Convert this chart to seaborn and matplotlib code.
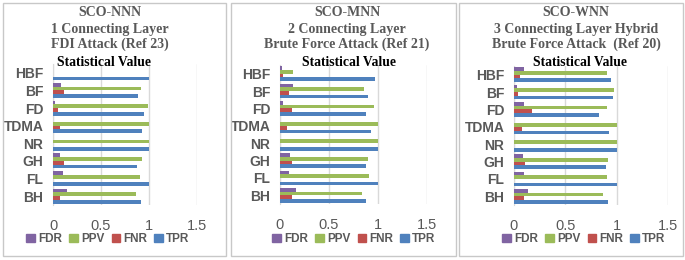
import matplotlib
matplotlib.use('Agg')
from matplotlib import pyplot as plt
from matplotlib.patches import Rectangle
import pandas as pd
import seaborn as sns

# 三个子图的数据
categories = ['HBF', 'BF', 'FD', 'TDMA', 'NR', 'GH', 'FL', 'BH']
series = ['FDR', 'PPV', 'FNR', 'TPR']

nnn_fdr = [0.0, 0.084, 0.02, 0.005, 0.0, 0.07, 0.10, 0.147]
nnn_ppv = [0.0, 0.916, 0.985, 1.0, 1.0, 0.93, 0.91, 0.86]
nnn_fnr = [0.0, 0.11, 0.05, 0.075, 0.0, 0.11, 0.0, 0.077]
nnn_tpr = [1.0, 0.89, 0.95, 0.93, 1.0, 0.88, 1.0, 0.92]

mnn_fdr = [0.02, 0.137, 0.03, 0.0, 0.0, 0.10, 0.092, 0.164]
mnn_ppv = [0.137, 0.86, 0.962, 1.0, 1.0, 0.894, 0.908, 0.833]
mnn_fnr = [0.027, 0.095, 0.123, 0.072, 0.0, 0.123, 0.0, 0.12]
mnn_tpr = [0.97, 0.90, 0.874, 0.928, 1.0, 0.874, 1.0, 0.877]

wnn_fdr = [0.094, 0.026, 0.10, 0.0, 0.0, 0.085, 0.098, 0.137]
wnn_ppv = [0.909, 0.977, 0.902, 1.0, 1.0, 0.92, 0.909, 0.866]
wnn_fnr = [0.055, 0.036, 0.176, 0.078, 0.0, 0.11, 0.0, 0.098]
wnn_tpr = [0.948, 0.967, 0.83, 0.928, 1.0, 0.896, 1.0, 0.912]

titles = [['SCO-NNN', '1 Connecting Layer', 'FDI Attack (Ref 23)'],
          ['SCO-MNN', '2 Connecting Layer', 'Brute Force Attack (Ref 21)'],
          ['SCO-WNN', '3 Connecting Layer Hybrid', 'Brute Force Attack  (Ref 20)']]
xticks = [0, 0.5, 1, 1.5]
xtick_labels = ['0', '0.5', '1', '1.5']

colors = {'FDR': '#8064A2', 'PPV': '#9BBB59', 'FNR': '#C0504D', 'TPR': '#4F81BD'}

sns.set_style('white')
plt.rcParams['font.family'] = ['Liberation Sans', 'DejaVu Sans']

W, H = 685, 260
fig = plt.figure(figsize=(W / 100, H / 100), dpi=100)


def px(x0, y0, x1, y1):
    """像素坐标 -> figure 坐标"""
    return [x0 / W, 1 - y1 / H, (x1 - x0) / W, (y1 - y0) / H]


def make_df(fdr, ppv, fnr, tpr):
    rows = []
    for name, vals in zip(series, [fdr, ppv, fnr, tpr]):
        for c, v in zip(categories, vals):
            rows.append([c, name, v])
    return pd.DataFrame(rows, columns=['cat', 'metric', 'value'])


# 数据, 外框, 坐标轴区域, 标题中心x, "Statistical Value"中心x, 图例中心x
panels = [
    (make_df(nnn_fdr, nnn_ppv, nnn_fnr, nnn_tpr), (3, 3, 226, 256), (53, 64, 197, 205), 110, 104, 108),
    (make_df(mnn_fdr, mnn_ppv, mnn_fnr, mnn_tpr), (231, 3, 456, 256), (280, 65, 427, 204), 347, 349, 354),
    (make_df(wnn_fdr, wnn_ppv, wnn_fnr, wnn_tpr), (459, 3, 683, 256), (514, 66, 668, 205), 576, 580, 584),
]

for i, (data, box, axbox, tx, sx, lx) in enumerate(panels):
    # 外框
    fig.patches.append(Rectangle((box[0] / W, 1 - box[3] / H), (box[2] - box[0]) / W,
                                 (box[3] - box[1]) / H, transform=fig.transFigure,
                                 fill=False, edgecolor='#C8C8C8', linewidth=1))
    ax = fig.add_axes(px(*axbox))
    sns.barplot(data=data, y='cat', x='value', hue='metric', hue_order=series,
                order=categories, palette=colors, orient='h', width=0.85,
                saturation=1, legend=False, linewidth=0, ax=ax)
    ax.set_xlim(0, 1.5)
    ax.set_xticks(xticks)
    ax.set_xticklabels(xtick_labels, fontsize=10.5, color='#595959')
    ax.tick_params(axis='y', labelsize=10, labelcolor='#595959', length=0, pad=7)
    ax.tick_params(axis='x', length=0, pad=10)
    for lab in ax.get_yticklabels():
        lab.set_fontweight('bold')
    ax.set_xlabel('')
    ax.set_ylabel('')
    ax.xaxis.grid(True, color='#D9D9D9', linewidth=1)
    ax.set_axisbelow(True)
    for s in ['top', 'right', 'bottom']:
        ax.spines[s].set_visible(False)
    ax.spines['left'].set_color('#D9D9D9')
    ax.spines['left'].set_zorder(0)

    for line, y in zip(titles[i], [13, 29, 44]):
        fig.text(tx / W, 1 - y / H, line, ha='center', va='center',
                 fontsize=10, fontweight='bold', color='#595959',
                 family=['Liberation Serif'])
    fig.text(sx / W, 1 - 62 / H, 'Statistical Value', ha='center', va='center',
             fontsize=9.8, fontweight='bold', color='black', family=['Liberation Serif'])

    handles = [Rectangle((0, 0), 1, 1, color=colors[s]) for s in series]
    fig.legend(handles, series, loc='center', ncol=4,
               bbox_to_anchor=(lx / W, 1 - 239 / H),
               frameon=False, handlelength=0.7, handleheight=0.7,
               handletextpad=0.3, columnspacing=0.6,
               prop={'weight': 'bold', 'size': 8.5})
    for t in fig.legends[-1].get_texts():
        t.set_color('#595959')

fig.savefig('out.png', dpi=100)
